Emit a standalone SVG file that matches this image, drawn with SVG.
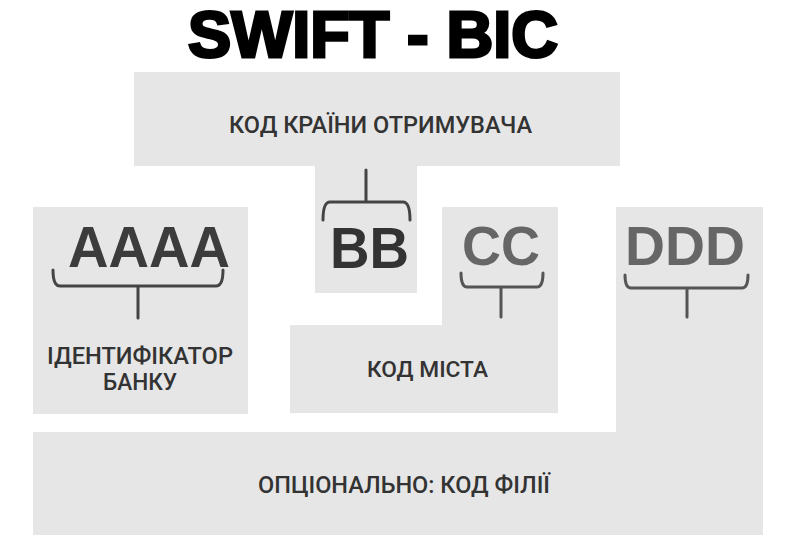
<svg xmlns="http://www.w3.org/2000/svg" width="800" height="544" viewBox="0 0 800 544">
<style>
.box{fill:#e6e6e6;stroke:none}
.lbl{font-family:Roboto,"Liberation Sans",sans-serif;font-weight:500;fill:#333;text-anchor:middle}
.big{font-family:"Liberation Sans",Arial,sans-serif;font-weight:bold;text-anchor:middle}
.br{fill:none;stroke-width:3;stroke-linecap:round;stroke-linejoin:round}
</style>
<rect width="800" height="544" fill="#fff"/>
<g id="title">
<text x="373" y="57" font-family="'Liberation Sans',Arial,sans-serif" font-weight="900" font-size="64" fill="#000" stroke="#000" stroke-width="3" text-anchor="middle" textLength="370" lengthAdjust="spacingAndGlyphs">SWIFT - BIC</text>
</g>
<g id="country">
<polygon class="box" points="134,72 620,72 620,166 417,166 417,293 315,293 315,166 134,166"/>
<text class="lbl" x="380.5" y="133" font-size="24" textLength="303" lengthAdjust="spacingAndGlyphs">КОД КРАЇНИ ОТРИМУВАЧА</text>
<text class="big" x="369.5" y="268" font-size="58" fill="#333" textLength="79" lengthAdjust="spacingAndGlyphs">BB</text>
</g>
<g id="bank">
<rect class="box" x="33" y="207" width="215" height="207"/>
<text class="big" x="149" y="267" font-size="58" fill="#3c3c3c" textLength="162" lengthAdjust="spacingAndGlyphs">AAAA</text>
<text class="lbl" x="140" y="364" font-size="23" textLength="186" lengthAdjust="spacingAndGlyphs">ІДЕНТИФІКАТОР</text>
<text class="lbl" x="140" y="390" font-size="23" textLength="74" lengthAdjust="spacingAndGlyphs">БАНКУ</text>
</g>
<g id="city">
<polygon class="box" points="442,207 558,207 558,413 290,413 290,325 442,325"/>
<text class="big" x="501" y="265" font-size="56" fill="#666" textLength="78" lengthAdjust="spacingAndGlyphs">CC</text>
<text class="lbl" x="427.5" y="377" font-size="22" textLength="121" lengthAdjust="spacingAndGlyphs">КОД МІСТА</text>
</g>
<g id="branch">
<polygon class="box" points="616,207 763,207 763,535 33,535 33,432 616,432"/>
<text class="big" x="685" y="265" font-size="56" fill="#666" textLength="120" lengthAdjust="spacingAndGlyphs">DDD</text>
<text class="lbl" x="404" y="493" font-size="23" textLength="292" lengthAdjust="spacingAndGlyphs">ОПЦІОНАЛЬНО: КОД ФІЛІЇ</text>
</g>
<g id="connectors">
<path class="br" stroke="#444" d="M53,270 Q53,286 60,286 L216,286 Q223,286 223,270 M138,286 L138,318"/>
<path class="br" stroke="#444" d="M323,220 Q323,202 330,202 L403,202 Q410,202 410,220 M366,202 L366,170"/>
<path class="br" stroke="#555" d="M461,273 Q461,287 467,287 L537,287 Q543,287 543,273 M501,287 L501,317"/>
<path class="br" stroke="#555" d="M625,275 Q625,288 631,288 L742,288 Q748,288 748,275 M687,288 L687,317"/>
</g>
</svg>
